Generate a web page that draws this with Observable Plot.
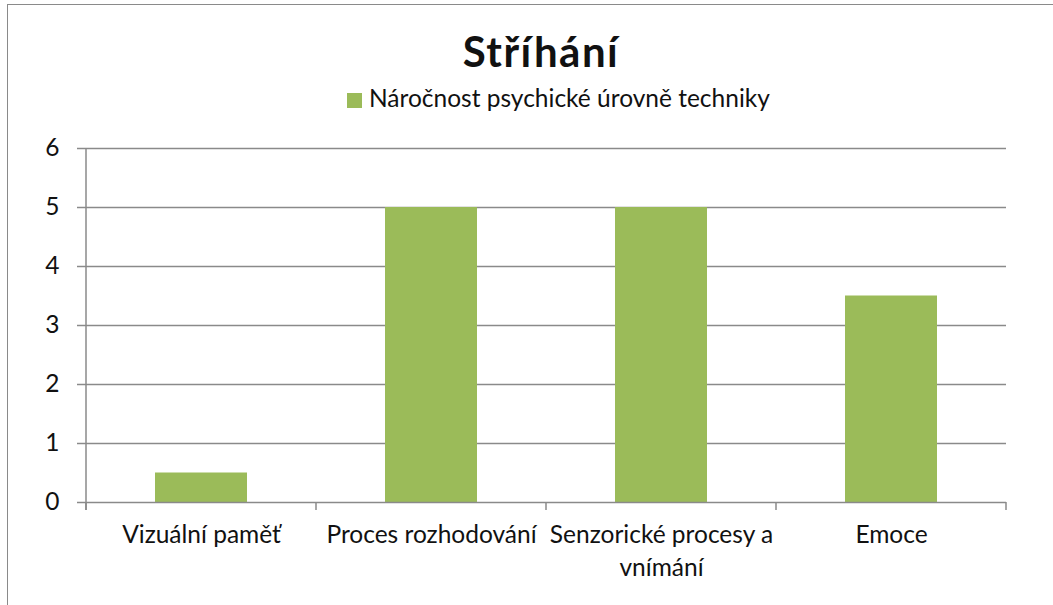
<!DOCTYPE html>
<html><head><meta charset="utf-8">
<script src="https://cdn.jsdelivr.net/npm/d3@7"></script>
<script src="https://cdn.jsdelivr.net/npm/@observablehq/plot@0.6"></script>
<style>
body{margin:0;background:#fff;}
#wrap{position:relative;width:1053px;height:605px;overflow:hidden;font-family:Lato,sans-serif;color:#111;}
#frame{position:absolute;left:7px;top:4px;width:1200px;height:800px;border-left:1.5px solid #8a8a8a;border-top:1.5px solid #8a8a8a;box-sizing:border-box;}
#title{position:absolute;left:0;width:1082px;text-align:center;top:30px;font-size:42px;line-height:42px;font-weight:bold;letter-spacing:1.5px;white-space:nowrap;}
#legend{position:absolute;left:347px;top:86px;font-size:24.5px;line-height:24.5px;white-space:nowrap;}
#legend .sw{display:inline-block;width:15px;height:15px;background:#9BBB59;position:absolute;left:0;top:7px;}
#legend .tx{position:absolute;left:22px;top:0;}
#chart{position:absolute;left:0;top:0;}
</style>
</head><body>
<div id="wrap">
  <div id="frame"></div>
  <div id="chart"></div>
  <div id="title">Stříhání</div>
  <div id="legend"><span class="sw"></span><span class="tx">Náročnost psychické úrovně techniky</span></div>
</div>
<script>
const categories = ["Vizuální paměť", "Proces rozhodování", "Senzorické procesy a vnímání", "Emoce"];
const values = [0.5, 5, 5, 3.5];
const tickLabels = ["Vizuální paměť", "Proces rozhodování", "Senzorické procesy a\nvnímání", "Emoce"];
const yTicks = [0, 1, 2, 3, 4, 5, 6];
const seriesName = "Náročnost psychické úrovně techniky";

const data = categories.map((c, i) => ({category: c, value: values[i]}));
const grid = "#8a8a8a";

const edgeTicks = (index, scales) => {
  const x = scales.x, y = scales.y;
  const bw = x.bandwidth ? x.bandwidth() : 0;
  const step = x.step ? x.step() : (x(categories[1]) - x(categories[0]));
  const gap = (step - bw) / 2;
  const edges = categories.map(c => x(c) - gap).concat([x(categories[categories.length - 1]) + bw + gap]);
  const y0 = y(0);
  const g = d3.create("svg:g").attr("stroke", grid).attr("stroke-width", 1.5);
  edges.forEach(e => g.append("line").attr("x1", e).attr("x2", e).attr("y1", y0).attr("y2", y0 + 8));
  g.append("line").attr("x1", edges[0]).attr("x2", edges[0]).attr("y1", y(yTicks[yTicks.length - 1])).attr("y2", y0 + 8);
  return g.node();
};

const chart = Plot.plot({
  width: 1053,
  height: 605,
  marginLeft: 85,
  marginRight: 47,
  marginTop: 148,
  marginBottom: 103,
  style: {fontFamily: "Lato, sans-serif", fontSize: "24.5px", color: "#111", background: "transparent"},
  x: {domain: categories, paddingInner: 0.6, paddingOuter: 0.3, label: null},
  y: {domain: [0, 6], label: null},
  marks: [
    Plot.ruleY(yTicks.slice(1), {stroke: grid, strokeWidth: 1.5}),
    Plot.barY(data, {x: "category", y: "value", fill: "#9BBB59"}),
    Plot.ruleY([0], {stroke: grid, strokeWidth: 1.5}),
    Plot.axisY({ticks: yTicks, tickSize: 8, tickPadding: 18, stroke: grid, strokeWidth: 1.5, fill: "#111", fontSize: 24.5, label: null, tickFormat: d => String(d)}),
    Plot.axisX({tickSize: 0, tickPadding: 17, fill: "#111", fontSize: 24.5, lineHeight: 1.35, label: null,
      tickFormat: d => tickLabels[categories.indexOf(d)]}),
    edgeTicks
  ]
});
document.getElementById("chart").appendChild(chart);
</script>
</body></html>
